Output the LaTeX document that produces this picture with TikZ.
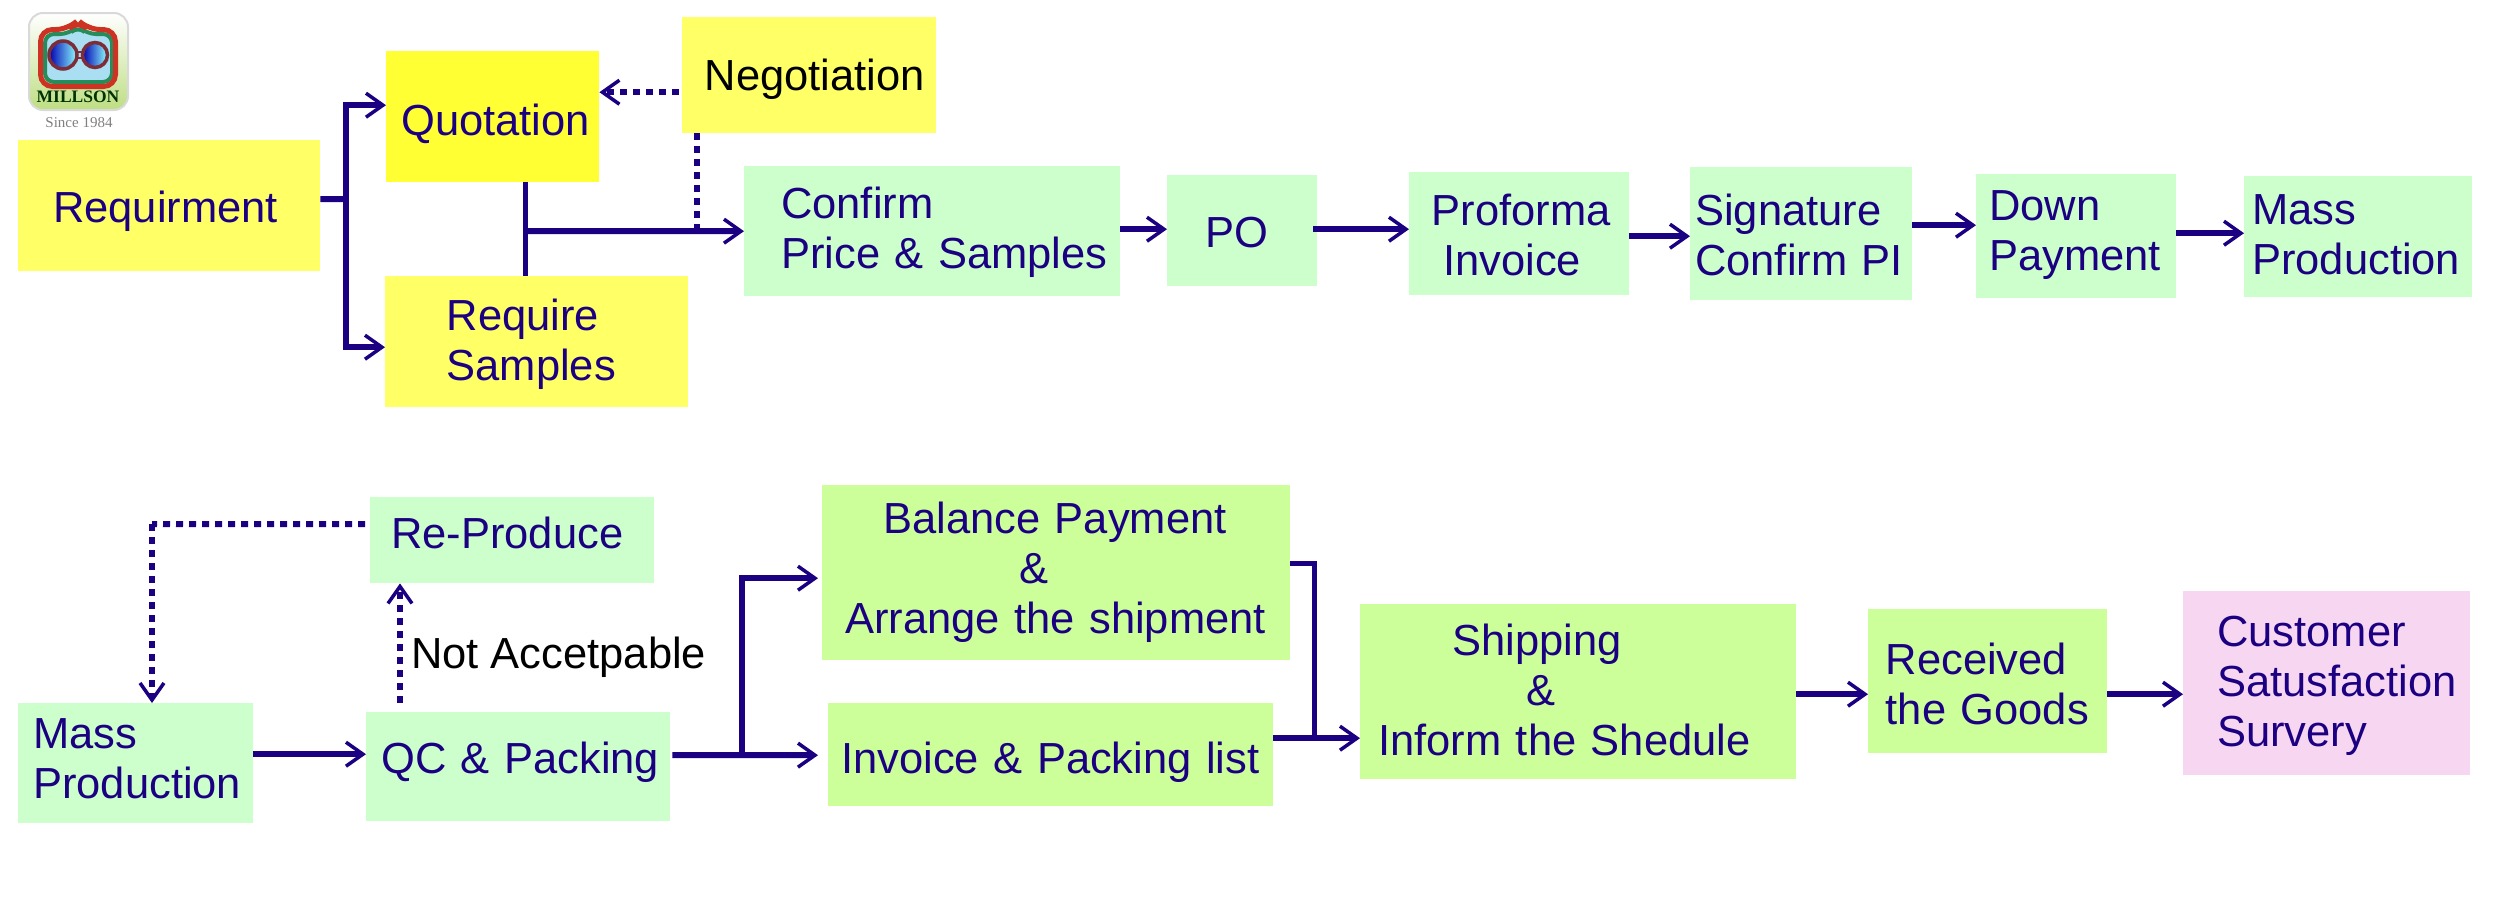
\documentclass[tikz,border=0pt]{standalone}
\usepackage{fontspec}
\usepackage{xcolor}
\usetikzlibrary{arrows.meta}
\setmainfont{Liberation Sans}
\newfontfamily\logofont{Liberation Serif}
\hyphenpenalty=10000
\definecolor{flowblue}{RGB}{28,0,130}
\definecolor{paleyellow}{RGB}{255,255,102}
\definecolor{strongyellow}{RGB}{255,255,51}
\definecolor{palegreen}{RGB}{204,255,204}
\definecolor{limegreen}{RGB}{204,255,153}
\definecolor{palepink}{RGB}{246,214,240}
\definecolor{logored}{RGB}{205,50,35}
\definecolor{logogreen}{RGB}{40,140,90}
\definecolor{logosky}{RGB}{170,222,242}
\definecolor{logorim}{RGB}{125,45,55}
\definecolor{logoleaf}{RGB}{190,222,130}
\begin{document}
\begin{tikzpicture}[x=1pt, y=-1pt,
    flowbox/.style n args={4}{rectangle, anchor=north west, align=left, text=flowblue,
        font=\fontsize{43.5}{50}\selectfont,
        /utils/exec={\pgfmathsetmacro\boxtw{#1-2*#3}%
            \pgfmathsetmacro\boxht{max(2*#4-#2,0)}%
            \pgfmathsetmacro\boxdp{max(#2-2*#4,0)}},
        inner ysep=0pt, inner xsep=#3pt, minimum width=#1pt, minimum height=#2pt,
        text width=\boxtw pt, text height=\boxht pt, text depth=\boxdp pt},
    flowline/.style={draw=flowblue, line width=6pt},
    thinline/.style={draw=flowblue, line width=5pt},
    flowarrow/.style={flowline, -{Straight Barb[length=17pt, width=24pt, line width=3.5pt]}},
    flowdash/.style={flowline, dash pattern=on 7pt off 6pt},
    dasharrow/.style={flowdash, -{Straight Barb[length=17pt, width=24pt, line width=3.5pt]}}]
    \useasboundingbox (0,0) rectangle (2493,905);

    \draw[rounded corners=14pt, top color=white, bottom color=logoleaf, draw=black!15, line width=2pt]
        (29,13) rectangle (128,110);
    \draw[rounded corners=9pt, fill=logosky, draw=logogreen, line width=4pt]
        (45,34) -- (69,34) -- (78,26) -- (87,34) -- (112,34) -- (112,82) -- (45,82) -- cycle;
    \draw[rounded corners=12pt, draw=logored, line width=5pt]
        (40.5,29.5) -- (68,29.5) -- (78,20) -- (88,29.5) -- (115.5,29.5) -- (115.5,86.5) -- (40.5,86.5) -- cycle;
    \draw[draw=logorim, line width=2pt] (76,52) -- (82,52) (76,58) -- (82,58);
    \draw[left color=blue!70!black, right color=cyan!45, draw=logorim, line width=3.5pt] (63,55) circle (14);
    \draw[left color=blue!70!black, right color=cyan!45, draw=logorim, line width=3.5pt] (95,55) circle (12.5);
    \node[inner sep=0pt, text=black!80!green, font=\logofont\bfseries\fontsize{17.5}{18}\selectfont] (logoname) at (78,97) {MILLSON};
    \node[inner sep=0pt, text=black!50, font=\logofont\fontsize{15}{15}\selectfont] (logoyear) at (79,123) {Since 1984};

    \node[flowbox={302}{131}{35}{82}, fill=paleyellow] (requirment) at (18,140) {Requirment};
    \node[flowbox={213}{131}{15}{84}, fill=strongyellow] (quotation) at (386,51) {Quotation};
    \node[flowbox={254}{116}{22.5}{73}, fill=paleyellow, text=black] (negotiation) at (682,17) {Negotiation};
    \node[flowbox={303}{131}{61.5}{54}, fill=paleyellow] (samples) at (385,276) {Require\\Samples};
    \node[flowbox={376}{130}{37}{52}, fill=palegreen] (confirm) at (744,166) {Confirm\\Price~\&~Samples};
    \node[flowbox={150}{111}{38}{72}, fill=palegreen] (po) at (1167,175) {PO};
    \node[flowbox={220}{123}{22.5}{53}, fill=palegreen] (proforma) at (1409,172) {Proforma\\\hspace*{11.5pt}Invoice};
    \node[flowbox={222}{133}{5}{58}, fill=palegreen] (signature) at (1690,167) {Signature\\Confirm~PI};
    \node[flowbox={200}{124}{13}{46}, fill=palegreen] (down) at (1976,174) {Down\\Payment};
    \node[flowbox={228}{121}{8}{48}, fill=palegreen] (massup) at (2244,176) {Mass\\Production};

    \node[flowbox={284}{86}{21}{51}, fill=palegreen] (reproduce) at (370,497) {Re-Produce};
    \node[flowbox={235}{120}{15}{45}, fill=palegreen] (masslow) at (18,703) {Mass\\Production};
    \node[flowbox={304}{109}{15}{61}, fill=palegreen] (qc) at (366,712) {QC~\&~Packing};
    \node[flowbox={468}{175}{23}{48}, fill=limegreen] (balance) at (822,485) {\hspace*{38pt}Balance~Payment\\\hspace*{174pt}\&\\Arrange~the~shipment};
    \node[flowbox={445}{103}{13}{70}, fill=limegreen] (invoice) at (828,703) {Invoice~\&~Packing~list};
    \node[flowbox={436}{175}{18}{51}, fill=limegreen] (shipping) at (1360,604) {\hspace*{74pt}Shipping\\\hspace*{148pt}\&\\Inform~the~Shedule};
    \node[flowbox={239}{144}{17.5}{65}, fill=limegreen] (received) at (1868,609) {Received\\the~Goods};
    \node[flowbox={287}{184}{34}{55}, fill=palepink] (customer) at (2183,591) {Customer\\Satusfaction\\Survery};

    \coordinate (reqjoin) at (346,199);
    \coordinate (samplejoin) at (525,231);
    \coordinate (negjoin) at (697,231);
    \coordinate (lowjoin) at (152,524);
    \coordinate (qcup) at (400,703);
    \coordinate (qcjoin) at (742,755);
    \coordinate (shipjoin) at (1314,738);

    \draw[flowline] ([yshift=6.5pt]requirment.east) -- (reqjoin);
    \draw[flowarrow] (reqjoin) |- ([yshift=11.5pt]quotation.west);
    \draw[flowarrow] (reqjoin) |- ([yshift=-5.5pt]samples.west);
    \draw[thinline] (samplejoin |- quotation.south) -- (samplejoin |- samples.north);
    \draw[flowarrow] (samplejoin) -- (confirm.west);
    \draw[flowdash] (negjoin |- negotiation.south) -- (negjoin);
    \draw[dasharrow] ([xshift=-3pt, yshift=-17pt]negotiation.west) -- ([yshift=-17pt]negotiation.west -| quotation.east);
    \draw[flowarrow] ([yshift=2pt]confirm.east) -- ([yshift=1.5pt]po.west);
    \draw[flowarrow] ([xshift=-4pt, yshift=1.5pt]po.east) -- ([yshift=4.5pt]proforma.west);
    \draw[flowarrow] ([yshift=-2.5pt]proforma.east) -- ([yshift=-2.5pt]proforma.east -| signature.west);
    \draw[flowarrow] ([yshift=8.5pt]signature.east) -- ([yshift=8.5pt]signature.east -| down.west);
    \draw[flowarrow] ([yshift=3pt]down.east) -- ([yshift=3pt]down.east -| massup.west);

    \draw[flowdash] ([xshift=-5pt, yshift=16pt]reproduce.west) -- (lowjoin);
    \draw[dasharrow] (lowjoin) -- (lowjoin |- masslow.north);
    \draw[dasharrow] (qcup) -- (qcup |- reproduce.south);
    \draw[flowarrow] ([yshift=9pt]masslow.east) -- ([yshift=9pt]masslow.east -| qc.west);
    \draw[flowline] ([xshift=2pt, yshift=11.5pt]qc.east) -- (qcjoin);
    \draw[flowarrow] (qcjoin) -- ([xshift=-10pt, yshift=-0.5pt]invoice.west);
    \draw[flowarrow] (qcjoin) |- ([xshift=-4pt, yshift=-5.5pt]balance.west);
    \draw[thinline] ([yshift=9.5pt]balance.east) -| (shipjoin);
    \draw[flowarrow] ([yshift=16.5pt]invoice.east) -- ([yshift=16.5pt]invoice.east -| shipping.west);
    \draw[flowarrow] ([yshift=-2.5pt]shipping.east) -- ([yshift=-2.5pt]shipping.east -| received.west);
    \draw[flowarrow] ([yshift=-13pt]received.east) -- ([yshift=-13pt]received.east -| customer.west);

    \node[anchor=base west, inner sep=0pt, text=black, font=\fontsize{43.5}{50}\selectfont] (notok) at (411,668) {Not Accetpable};
\end{tikzpicture}
\end{document}
